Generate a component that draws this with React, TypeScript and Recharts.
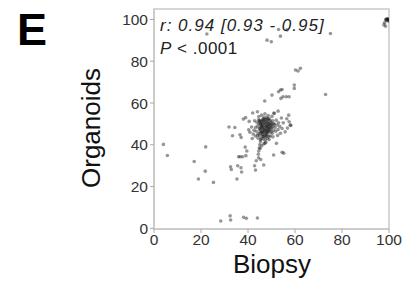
import { ScatterChart, Scatter, XAxis, YAxis, ReferenceArea } from "recharts"

// Biopsy (x) vs Organoids (y), % values
const outliers: [number, number][] = [
  [4, 40.2], [5.7, 34.9], [17.1, 32], [18.9, 23.6], [22, 39], [21.8, 27.4], [25.3, 22],
  [22.5, 93], [28.4, 3.5], [32.4, 6], [32.6, 4], [38.1, 5.3], [39.3, 4.8], [44, 5],
  [31.9, 48.5], [34.4, 48.3], [33.4, 44.3], [32.6, 29.5], [32.9, 28.2], [35.3, 23.6],
  [35.6, 30], [36, 34.3], [36.7, 34.3], [37.7, 34.3], [36.6, 44.8], [37.1, 43.5], [37, 29],
  [37.3, 27], [38, 52.3], [38.8, 38.9], [39.5, 37], [39.1, 34.8], [40.3, 47.2], [43.2, 27.9],
  [42.8, 30], [43.5, 32.4], [44.5, 33.8], [45.4, 33], [46.7, 30.3], [45.2, 38.3], [45.9, 39.6],
  [47.1, 61], [47.2, 40.7], [48.1, 44.2], [50.2, 63.8], [51.2, 55], [52.8, 56.1], [54.5, 36.4],
  [55.2, 36], [50.9, 35.1], [52.1, 40.7], [53, 65.4], [53.8, 66.2], [54.5, 66.5], [54, 62.2],
  [54.9, 63], [56.3, 63], [57.5, 63], [57.3, 54.2], [58, 49.4], [59.7, 68.6], [59.7, 67],
  [60.2, 75.8], [61.3, 75.3], [62.3, 76.6], [73, 64.1], [48.1, 90.1], [49.9, 89.3],
  [53.8, 92], [53, 95.2], [56.6, 95], [75.1, 93.3],
]

const cluster: [number, number][] = [
  [44.5, 52], [45.2, 50.5], [46, 51.8], [46.8, 53], [47.5, 52.2], [48.3, 51], [49, 52.5], [49.8, 50.8], [50.5, 51.5], [51.2, 49.8],
  [44, 49], [44.8, 48], [45.5, 47.2], [46.2, 49.5], [47, 48.3], [47.8, 47], [48.5, 48.8], [49.2, 47.5], [50, 48.2], [50.8, 47],
  [43.5, 46.5], [44.3, 45.3], [45, 44.5], [45.8, 46], [46.5, 45], [47.2, 46.3], [48, 44.8], [48.7, 45.8], [49.5, 44.2], [50.3, 45.5],
  [44.2, 43.2], [45.3, 42.5], [46.3, 43.8], [47.3, 42.2], [48.2, 43], [49, 42.5], [47.6, 41.2], [46.8, 40.5], [47.5, 49.8], [46.5, 47.5],
  [45.6, 49.2], [48.8, 50], [48, 49.3], [47, 50.7], [46, 48.6], [45.1, 51.2], [49.6, 49.2], [50.9, 50.2], [51.5, 48.3], [52.3, 49.5],
  [52, 51.8], [53, 50.5], [51.8, 46.5], [52.8, 47.3], [53.5, 48.8], [43.8, 50.8], [43.2, 48.3], [42.5, 47], [42.8, 51.5], [44.6, 53.5],
  [45.8, 54.2], [47.2, 54.8], [48.6, 54], [50.2, 53.6], [51, 55.2], [46.7, 44], [45.4, 45.6], [47.9, 46], [49.3, 46.6], [50.6, 43.8],
  [44.9, 47.6], [46.1, 46.4], [48.4, 47.6], [49.9, 46.2], [47.4, 44.6], [46.4, 42.8], [48.9, 44], [45.9, 50.2], [47.7, 51.1], [49.4, 51.6],
  [44.1, 44.6], [43.1, 44.2], [42.2, 45.2], [41.5, 48.5], [41.8, 43], [40.8, 46], [53.8, 45.5], [54.5, 47.8], [55, 50.5], [54.2, 52.8],
  [56.5, 52.5], [57.5, 51], [58.2, 49.3], [55.8, 46.2], [56.8, 48], [40.5, 51.2], [39, 53], [42, 55.2], [44, 55.8], [52.6, 44.5],
  [45.5, 43], [45.3, 41.5], [45, 40], [44.8, 38.5], [44.6, 37], [44.4, 35.5],
]

// dense core of the cluster
const core: [number, number][] = [
  [45.3, 49.8], [45.9, 48.1], [46.6, 50.4], [47.1, 47.4], [47.7, 48.7], [48.2, 50.3], [48.9, 48.4], [49.5, 50.3],
  [45.7, 51.1], [46.4, 52.4], [47.9, 52.9], [48.7, 51.9], [50.1, 49.7], [50.6, 48.9], [46.3, 45.9], [47.6, 45.4],
  [48.3, 46.3], [45.1, 46.3], [44.6, 50.1], [46.9, 49.1], [48.1, 48.1], [49.1, 49.5], [46.6, 51.6], [49.7, 47.9],
  [47.3, 43.6], [46.1, 44.7], [48.6, 46.9], [45.6, 48.5], [47.1, 51.9], [48.4, 52.6], [44.9, 51.6], [46.9, 46.8],
]

const corner: [number, number][] = [
  [99.3, 100], [99.6, 99.8], [99, 99.5], [98.6, 99.9], [99.8, 99.2], [98.2, 98.5],
  [97.8, 97.5], [98.5, 96.8], [99.2, 100.3], [100, 99.8], [99.5, 100.2], [98.9, 100.1],
]

const ticks = [0, 20, 40, 60, 80, 100]

const points = [...outliers, ...cluster, ...core, ...corner].map(([x, y]) => ({ x, y }))

const font = "'Liberation Sans', Arial, Helvetica, sans-serif"

const Dot = (props: any) => (
  <circle cx={props.cx} cy={props.cy} r={1.8} fill="#1a1a1a" fillOpacity={0.45} />
)

export default function App() {
  return (
    <div style={{ position: "absolute", left: 0, top: 0, width: 412, height: 282, background: "#fff", fontFamily: font }}>
      <ScatterChart width={412} height={282} margin={{ top: 9, right: 23, bottom: 23, left: 94 }}>
        <ReferenceArea x1={0} x2={100} y1={-0.3} y2={105} fill="none" stroke="#c9c9c9" strokeWidth={1.5} />
        <XAxis
          dataKey="x"
          type="number"
          domain={[0, 100]}
          ticks={ticks}
          height={30}
          tickSize={4}
          tickMargin={1}
          axisLine={{ stroke: "#c9c9c9", strokeWidth: 1.5 }}
          tickLine={{ stroke: "#aaa" }}
          tick={{ fill: "#333", fontSize: 15.5, fontFamily: font }}
          allowDataOverflow
        />
        <YAxis
          dataKey="y"
          type="number"
          domain={[-0.3, 105]}
          ticks={ticks}
          width={60}
          tickSize={4}
          tickMargin={2}
          axisLine={{ stroke: "#c9c9c9", strokeWidth: 1.5 }}
          tickLine={{ stroke: "#aaa" }}
          tick={{ fill: "#333", fontSize: 15.5, fontFamily: font }}
          allowDataOverflow
        />
        <Scatter data={points} shape={Dot} isAnimationActive={false} />
      </ScatterChart>
      <svg width={412} height={282} style={{ position: "absolute", left: 0, top: 0, pointerEvents: "none" }}>
        <text x={17} y={45} fontSize={45} fontWeight="bold" fontFamily={font} fill="#000">E</text>
        <text x={160} y={31} fontSize={17} letterSpacing={1} fontStyle="italic" fontFamily={font} fill="#222">r: 0.94 [0.93 - 0.95]</text>
        <text x={160} y={54} fontSize={17} letterSpacing={0.5} fontFamily={font} fill="#222">
          <tspan fontStyle="italic">P</tspan> &lt; .0001
        </text>
        <text x={272} y={273} fontSize={26} textAnchor="middle" fontFamily={font} fill="#111">Biopsy</text>
        <text transform="translate(100,128) rotate(-90)" fontSize={26} textAnchor="middle" fontFamily={font} fill="#111">Organoids</text>
      </svg>
    </div>
  )
}
